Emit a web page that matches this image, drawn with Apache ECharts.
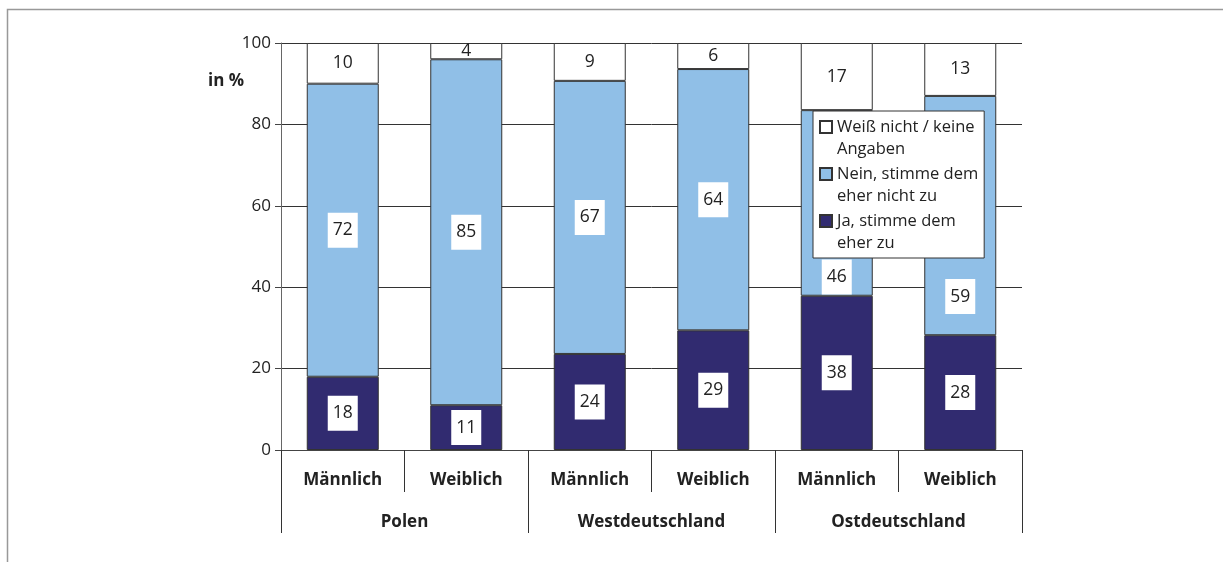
<!DOCTYPE html>
<html>
<head>
    <meta charset="utf-8">
    <script src="https://cdn.jsdelivr.net/npm/echarts@6/dist/echarts.min.js"></script>
</head>
<body style="margin:0">
<div id="main" style="width: 1223px;height:562px"></div>

<script type="text/javascript">
    // Kategorien und Werte (in %)
    var categories = ['Männlich', 'Weiblich', 'Männlich', 'Weiblich', 'Männlich', 'Weiblich'];
    var countries = ['Polen', 'Westdeutschland', 'Ostdeutschland'];
    var ja = [18, 11, 23.6, 29.4, 37.9, 28.2];
    var nein = [72, 85, 67.1, 64.2, 45.6, 58.8];
    var weissNicht = [10, 4, 9.3, 6.4, 16.5, 13];
    var yTicks = [0, 20, 40, 60, 80, 100];

    var legendNames = ['Weiß nicht / keine\nAngaben', 'Nein, stimme dem\neher nicht zu', 'Ja, stimme dem\neher zu'];

    // Labels unter der Legende nach unten geschoben (wie im Original)
    var neinLabelShift = {4: 74, 5: 81};

    var font = 'Open Sans';
    var textColor = '#222';

    var chartDom = document.getElementById('main');
    var myChart = echarts.init(chartDom);
    var option;

    function valueLabel(bg) {
        return {
            show: true,
            position: 'inside',
            fontFamily: font,
            fontSize: 17.5,
            color: textColor,
            backgroundColor: bg,
            padding: [9, 5, 8, 5],
            formatter: function (p) { return Math.round(p.value); }
        };
    }

    // Legendensymbol: Quadrat oben, damit es zur ersten Textzeile passt
    var legendIcon = 'path://M0,0L12,0L12,12L0,12ZM0,34';

    option = {
        animation: false,
        title: {
            text: 'in %',
            left: 203,
            top: 68,
            textStyle: {fontFamily: font, fontSize: 17, fontWeight: 'bold', color: textColor}
        },
        graphic: [{
            type: 'rect',
            shape: {x: 7.5, y: 9.5, width: 1300, height: 700},
            style: {fill: 'none', stroke: '#999', lineWidth: 1.5},
            silent: true
        }],
        legend: {
            data: legendNames,
            orient: 'vertical',
            left: 813,
            top: 111,
            padding: [5, 6, 4, 6],
            itemGap: 3,
            itemWidth: 12,
            itemHeight: 34,
            icon: legendIcon,
            backgroundColor: '#fff',
            borderColor: '#333',
            borderWidth: 1,
            borderRadius: 0,
            selectedMode: false,
            z: 10,
            textStyle: {fontFamily: font, fontSize: 16.5, color: textColor, lineHeight: 22}
        },
        grid: {left: 281, right: 201, top: 43, bottom: 112},
        xAxis: [
            {
                type: 'category',
                data: categories,
                axisLine: {lineStyle: {color: '#444', width: 1}},
                axisTick: {show: true, interval: 0, length: 42, lineStyle: {color: '#333'}},
                axisLabel: {interval: 0, margin: 22, fontFamily: font, fontSize: 17, fontWeight: 'bold', color: textColor}
            },
            {
                type: 'category',
                data: countries,
                position: 'bottom',
                axisLine: {show: false},
                axisTick: {show: true, interval: 0, length: 83, lineStyle: {color: '#333'}},
                axisLabel: {interval: 0, margin: 64, fontFamily: font, fontSize: 17, fontWeight: 'bold', color: textColor}
            }
        ],
        yAxis: {
            type: 'value',
            min: 0,
            max: 100,
            interval: 20,
            axisLine: {show: true, lineStyle: {color: '#666'}},
            axisTick: {show: true, length: 6, lineStyle: {color: '#444'}},
            axisLabel: {margin: 10, fontFamily: font, fontSize: 17, color: textColor,
                formatter: function (v) { return yTicks.indexOf(v) >= 0 ? v : ''; }},
            splitLine: {lineStyle: {color: '#333', width: 1}}
        },
        series: [
            {
                name: legendNames[2],
                type: 'bar',
                stack: 'all',
                barWidth: 72,
                itemStyle: {color: '#312b70', borderColor: '#333', borderWidth: 1},
                label: valueLabel('#fff'),
                data: ja
            },
            {
                name: legendNames[1],
                type: 'bar',
                stack: 'all',
                barWidth: 72,
                itemStyle: {color: '#90bfe7', borderColor: '#333', borderWidth: 1},
                label: valueLabel('#fff'),
                data: nein.map(function (v, i) {
                    if (neinLabelShift[i]) {
                        return {value: v, label: {offset: [0, neinLabelShift[i]]}};
                    }
                    return v;
                })
            },
            {
                name: legendNames[0],
                type: 'bar',
                stack: 'all',
                barWidth: 72,
                itemStyle: {color: '#ffffff', borderColor: '#333', borderWidth: 1},
                label: valueLabel('transparent'),
                data: weissNicht
            }
        ]
    };

    option && myChart.setOption(option);
</script>
</body>
</html>
